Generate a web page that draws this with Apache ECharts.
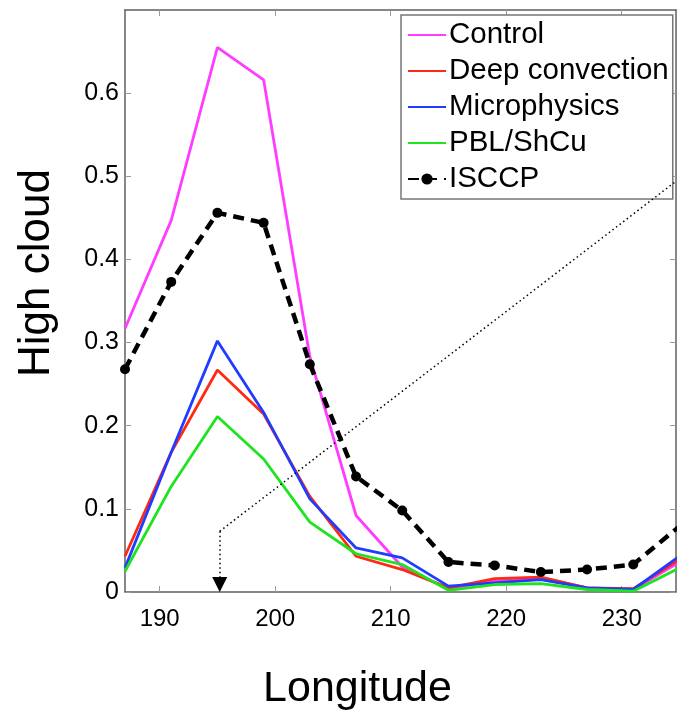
<!DOCTYPE html>
<html><head><meta charset="utf-8">
<script src="https://cdn.jsdelivr.net/npm/echarts@6/dist/echarts.min.js"></script>
<style>html,body{margin:0;padding:0;background:#fff}#c{width:677px;height:710px}</style>
</head><body><div id="c"></div>
<script>
var longitude = [187,191,195,199,203,207,211,215,219,223,227,231,235];
var control   = [0.317,0.447,0.655,0.616,0.283,0.092,0.030,0.004,0.013,0.017,0.005,0.003,0.036];
var deepConv  = [0.043,0.168,0.267,0.214,0.115,0.043,0.027,0.005,0.016,0.018,0.005,0.004,0.039];
var microphys = [0.029,0.168,0.302,0.216,0.112,0.053,0.041,0.007,0.011,0.015,0.005,0.003,0.043];
var pblShcu   = [0.025,0.127,0.211,0.160,0.084,0.046,0.033,0.002,0.009,0.010,0.003,0.001,0.029];
var isccp     = [0.268,0.373,0.456,0.444,0.274,0.139,0.098,0.036,0.032,0.024,0.027,0.033,0.079];
var xTicks = [190,200,210,220,230];
var yTicks = [0,0.1,0.2,0.3,0.4,0.5,0.6];
var arrowFrom = [195.2,0.073], arrowTo = [195.2,0.009], diagEnd = [234.7,0.494];

function pairs(v){ return longitude.map(function(x,i){return [x,v[i]];}); }
var font = "'Liberation Sans',Arial,sans-serif";
var axisCol = '#606060';
function xax(pos, show){
  return {type:'value', position:pos, min:187, max:234.7,
    axisLine:{show:true, onZero:false, lineStyle:{color:axisCol,width:1.5}},
    axisTick:{show:true, inside:true, length:6, customValues:xTicks, lineStyle:{color:'#999',width:1}},
    axisLabel:{show:show, customValues:xTicks, fontFamily:font, fontSize:24, color:'#000', margin:15},
    splitLine:{show:false},
    name: show ? 'Longitude' : '', nameLocation:'middle', nameGap:76,
    nameTextStyle:{fontFamily:font, fontSize:43, color:'#000', padding:[0,86,0,0]}};
}
function yax(pos, show){
  return {type:'value', position:pos, min:0, max:0.7,
    axisLine:{show:true, onZero:false, lineStyle:{color:axisCol,width:1.5}},
    axisTick:{show:true, inside:true, length:6, customValues:yTicks, lineStyle:{color:'#999',width:1}},
    axisLabel:{show:show, customValues:yTicks, fontFamily:font, fontSize:25, color:'#000', margin:6,
      formatter:function(v){return v===0?'0':v.toFixed(1);}},
    splitLine:{show:false},
    name: show ? 'High cloud' : '', nameLocation:'middle', nameGap:66, nameRotate:90,
    nameTextStyle:{fontFamily:font, fontSize:44, color:'#000', padding:[0,0,0,56]}};
}
function lineSeries(name, v, color){
  return {name:name, type:'line', data:pairs(v), symbol:'none', smooth:false,
    lineStyle:{color:color, width:2.8}, itemStyle:{color:color, opacity:0}, animation:false, clip:true};
}
var names = ['Control','Deep convection','Microphysics','PBL/ShCu','ISCCP'];
var chart = echarts.init(document.getElementById('c'), null, {renderer:'canvas'});
chart.setOption({
  animation:false,
  backgroundColor:'#fff',
  grid:{left:125, top:10, right:1, bottom:118, containLabel:false, outerBoundsMode:'none'},
  xAxis:[xax('bottom', true), xax('top', false)],
  yAxis:[yax('left', true), yax('right', false)],
  legend:{orient:'vertical', left:401, top:15, width:272,
    backgroundColor:'#fff', borderColor:'#777', borderWidth:1.5,
    padding:[5,4,5,6], itemGap:6, itemWidth:38, itemHeight:14,
    textStyle:{fontFamily:font, fontSize:29.5, color:'#000', padding:[0,0,0,-2]},
    data:[
      {name:names[0], itemStyle:{opacity:0}},
      {name:names[1], itemStyle:{opacity:0}},
      {name:names[2], itemStyle:{opacity:0}},
      {name:names[3], itemStyle:{opacity:0}},
      {name:names[4]}
    ]},
  series:[
    lineSeries(names[0], control, '#ff3cff'),
    lineSeries(names[1], deepConv, '#ff2a12'),
    lineSeries(names[2], microphys, '#1f3cff'),
    lineSeries(names[3], pblShcu, '#1ee41e'),
    {name:names[4], type:'line', data:pairs(isccp), symbol:'circle', symbolSize:10, showSymbol:true,
     lineStyle:{color:'#000', width:4.5, type:[11,7]}, itemStyle:{color:'#000'}, clip:true,
     markLine:{silent:true, symbol:['none','none'], label:{show:false},
       lineStyle:{color:'#000', width:1.5, type:[1.5,3]},
       data:[
         [{coord:arrowFrom, symbol:'none'},{coord:arrowTo, symbol:'triangle', symbolSize:[15,15]}],
         [{coord:arrowFrom},{coord:diagEnd}]
       ]}}
  ]
});
</script></body></html>
